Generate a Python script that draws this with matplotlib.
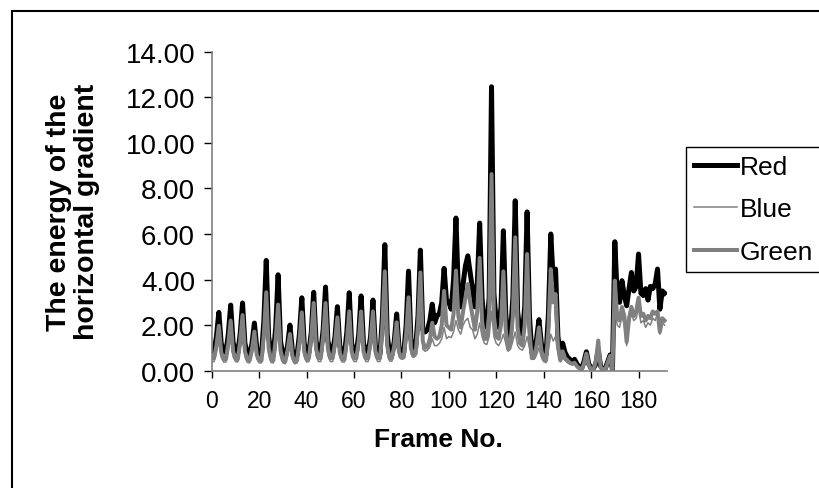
import numpy as np
import matplotlib
matplotlib.use("Agg")
from matplotlib import pyplot as plt
from matplotlib.patches import Rectangle

# data (frames 0..191) -----------------------------------
frames = np.arange(192)

red = [
    0.85, 0.85, 1.50, 2.56, 1.20, 0.85, 0.80, 1.60, 2.88, 1.25,
    0.85, 0.80, 1.60, 2.97, 1.20, 0.75, 0.70, 1.20, 2.09, 1.00,
    0.70, 0.70, 2.20, 4.84, 1.50, 0.80, 0.75, 1.90, 4.21, 1.30,
    0.70, 0.60, 1.10, 2.00, 0.90, 0.60, 0.70, 1.60, 3.20, 1.20,
    0.75, 0.80, 1.70, 3.44, 1.30, 0.80, 0.85, 1.80, 3.67, 1.30,
    0.85, 0.80, 1.50, 2.81, 1.10, 0.75, 0.75, 1.70, 3.42, 1.20,
    0.80, 0.80, 1.60, 3.28, 1.20, 0.85, 0.80, 1.50, 3.10, 1.10,
    0.75, 0.75, 2.40, 5.53, 1.60, 0.70, 0.70, 1.30, 2.49, 1.00,
    0.75, 0.80, 2.00, 4.37, 1.40, 0.85, 1.00, 2.40, 5.29, 1.80,
    1.70, 1.80, 2.20, 2.92, 2.10, 2.40, 2.50, 3.00, 4.49, 3.10,
    3.00, 2.70, 4.00, 6.70, 3.50, 2.80, 3.80, 4.60, 5.04, 4.30,
    3.60, 2.80, 3.80, 6.48, 3.20, 1.97, 1.90, 3.20, 12.46, 3.40,
    2.12, 1.90, 2.80, 6.14, 2.50, 1.32, 1.60, 3.20, 7.46, 2.60,
    1.70, 1.60, 2.80, 6.97, 2.40, 0.80, 0.90, 1.40, 2.24, 1.20,
    0.75, 0.70, 2.50, 6.00, 4.00, 4.46, 1.50, 0.70, 1.21, 0.80,
    0.60, 0.50, 0.40, 0.50, 0.30, 0.15, 0.10, 0.40, 0.83, 0.30,
    0.10, 0.10, 0.30, 0.90, 0.20, 0.05, 0.10, 0.40, 0.69, 0.05,
    5.66, 3.30, 3.00, 3.95, 3.30, 2.85, 3.60, 4.31, 3.50, 3.70,
    5.12, 3.40, 3.30, 3.60, 3.10, 3.70, 3.60, 3.80, 4.46, 2.70,
    3.50, 3.40,
]

blue = [
    0.40, 0.40, 0.80, 1.40, 0.60, 0.38, 0.38, 0.85, 1.55, 0.62,
    0.40, 0.38, 0.90, 1.70, 0.62, 0.36, 0.34, 0.70, 1.20, 0.52,
    0.34, 0.34, 1.10, 2.40, 0.72, 0.36, 0.34, 1.00, 2.00, 0.66,
    0.34, 0.30, 0.65, 1.15, 0.48, 0.30, 0.34, 0.90, 1.80, 0.62,
    0.38, 0.40, 1.05, 2.10, 0.68, 0.40, 0.40, 1.05, 2.10, 0.68,
    0.40, 0.40, 0.85, 1.65, 0.58, 0.38, 0.38, 0.95, 1.85, 0.62,
    0.40, 0.40, 0.95, 1.85, 0.62, 0.40, 0.40, 0.95, 1.85, 0.62,
    0.40, 0.40, 1.40, 3.00, 0.80, 0.42, 0.42, 0.80, 1.50, 0.60,
    0.50, 0.52, 1.10, 2.20, 0.75, 0.58, 0.65, 1.30, 2.80, 0.95,
    0.85, 0.90, 1.05, 1.40, 1.10, 1.10, 1.20, 1.40, 1.90, 1.40,
    1.50, 1.45, 1.70, 2.20, 1.80, 1.60, 2.00, 2.20, 2.30, 1.90,
    1.80, 1.40, 1.60, 2.10, 1.50, 1.20, 1.15, 1.50, 2.60, 1.50,
    1.20, 1.10, 1.30, 1.60, 1.20, 0.85, 0.95, 1.30, 1.70, 1.10,
    0.95, 0.90, 1.10, 1.50, 1.00, 0.50, 0.50, 0.70, 1.00, 0.60,
    0.40, 0.35, 0.90, 1.60, 1.30, 1.50, 0.80, 0.40, 0.60, 0.45,
    0.35, 0.30, 0.25, 0.30, 0.15, 0.08, 0.05, 0.25, 0.60, 0.20,
    0.05, 0.05, 0.35, 1.20, 0.12, 0.04, 0.04, 0.30, 0.55, 0.04,
    2.80, 2.00, 1.90, 2.40, 2.00, 1.10, 2.10, 2.50, 2.20, 2.30,
    2.80, 2.10, 2.20, 1.90, 2.10, 2.00, 2.30, 2.20, 2.50, 1.60,
    2.10, 2.00,
]

green = [
    0.55, 0.55, 1.10, 1.97, 0.80, 0.50, 0.50, 1.20, 2.20, 0.85,
    0.55, 0.50, 1.30, 2.44, 0.85, 0.50, 0.45, 0.95, 1.71, 0.70,
    0.45, 0.45, 1.60, 3.44, 1.00, 0.50, 0.45, 1.40, 2.90, 0.90,
    0.45, 0.40, 0.90, 1.61, 0.65, 0.40, 0.45, 1.30, 2.56, 0.85,
    0.50, 0.55, 1.50, 2.97, 0.95, 0.55, 0.55, 1.50, 2.97, 0.95,
    0.55, 0.55, 1.20, 2.34, 0.80, 0.50, 0.50, 1.30, 2.60, 0.85,
    0.55, 0.55, 1.30, 2.60, 0.85, 0.55, 0.55, 1.30, 2.60, 0.85,
    0.55, 0.55, 2.00, 4.36, 1.10, 0.55, 0.55, 1.10, 2.12, 0.80,
    0.60, 0.60, 1.60, 3.22, 1.00, 0.65, 0.75, 2.00, 4.31, 1.30,
    1.00, 1.05, 1.40, 2.10, 1.50, 1.40, 1.50, 2.00, 3.50, 2.00,
    1.90, 1.80, 2.50, 4.39, 2.40, 1.90, 2.60, 3.20, 3.80, 3.00,
    2.40, 1.80, 2.60, 4.95, 2.20, 1.40, 1.40, 2.50, 8.63, 2.40,
    1.50, 1.40, 2.00, 4.36, 1.80, 0.95, 1.20, 2.40, 5.85, 1.90,
    1.20, 1.10, 2.00, 5.12, 1.70, 0.55, 0.60, 1.10, 1.90, 0.90,
    0.50, 0.45, 1.80, 4.46, 3.00, 3.36, 1.10, 0.45, 0.85, 0.55,
    0.45, 0.35, 0.30, 0.35, 0.20, 0.10, 0.05, 0.30, 0.75, 0.25,
    0.05, 0.05, 0.40, 1.32, 0.15, 0.05, 0.05, 0.35, 0.65, 0.05,
    3.95, 2.30, 2.20, 2.80, 2.40, 1.26, 2.30, 2.80, 2.40, 2.60,
    3.20, 2.40, 2.50, 2.20, 2.40, 2.30, 2.60, 2.50, 2.60, 1.70,
    2.30, 2.20,
]

y_ticks = [0, 2, 4, 6, 8, 10, 12, 14]
x_ticks = [0, 20, 40, 60, 80, 100, 120, 140, 160, 180]

plt.rcParams["font.family"] = ["Liberation Sans", "DejaVu Sans"]

# figure + axes placed like the excel chart -----
fig = plt.figure(figsize=(8.19, 4.89), dpi=100)
ax = fig.add_axes([0.2585, 0.2399, 0.8144 - 0.2585, 0.8922 - 0.2399])

ax.plot(frames, red, color="black", linewidth=3.6, label="Red",
        solid_joinstyle="round")
ax.plot(frames, blue, color="#808080", linewidth=1.1, label="Blue")
ax.plot(frames, green, color="#808080", linewidth=2.9, label="Green",
        solid_joinstyle="round")

ax.set_xlim(0, 192)
ax.set_ylim(0, 14)
ax.set_xticks(x_ticks)
ax.set_xticklabels([str(v) for v in x_ticks], fontsize=16.5)
ax.set_yticks(y_ticks)
ax.set_yticklabels([f"{v:.2f}" for v in y_ticks], fontsize=20)

for side in ["top", "right"]:
    ax.spines[side].set_visible(False)
for side in ["left", "bottom"]:
    ax.spines[side].set_color("#808080")
    ax.spines[side].set_linewidth(1.2)

ax.tick_params(axis="both", direction="out", width=1, colors="black")
ax.tick_params(axis="y", length=6, pad=6)
ax.tick_params(axis="x", length=5, pad=8)

# axis titles -----
fig.text(73 / 819, 1 - 212 / 489, "The energy of the\nhorizontal gradient",
         rotation=90, ha="center", va="center", fontsize=20.5,
         fontweight="bold", linespacing=1.08)
fig.text(438 / 819, 1 - 440 / 489, "Frame No.", ha="center", va="center",
         fontsize=19, fontweight="bold")

# legend -----
leg = fig.legend(loc="upper left", bbox_to_anchor=(686 / 819, 1 - 148 / 489),
                 fontsize=19, frameon=True, fancybox=False, framealpha=1,
                 handlelength=1.63, handletextpad=0.12, labelspacing=0.7,
                 borderpad=0.3, borderaxespad=0)
leg.get_frame().set_edgecolor("black")
leg.get_frame().set_linewidth(1.0)

# outer chart border (runs off the right and bottom edge) -----
fig.add_artist(Rectangle((12 / 819, -0.1), 2, 1 - 12 / 489 + 0.1,
                         transform=fig.transFigure, fill=False,
                         edgecolor="black", linewidth=1.5, clip_on=False))

fig.savefig("out.png", dpi=100)
